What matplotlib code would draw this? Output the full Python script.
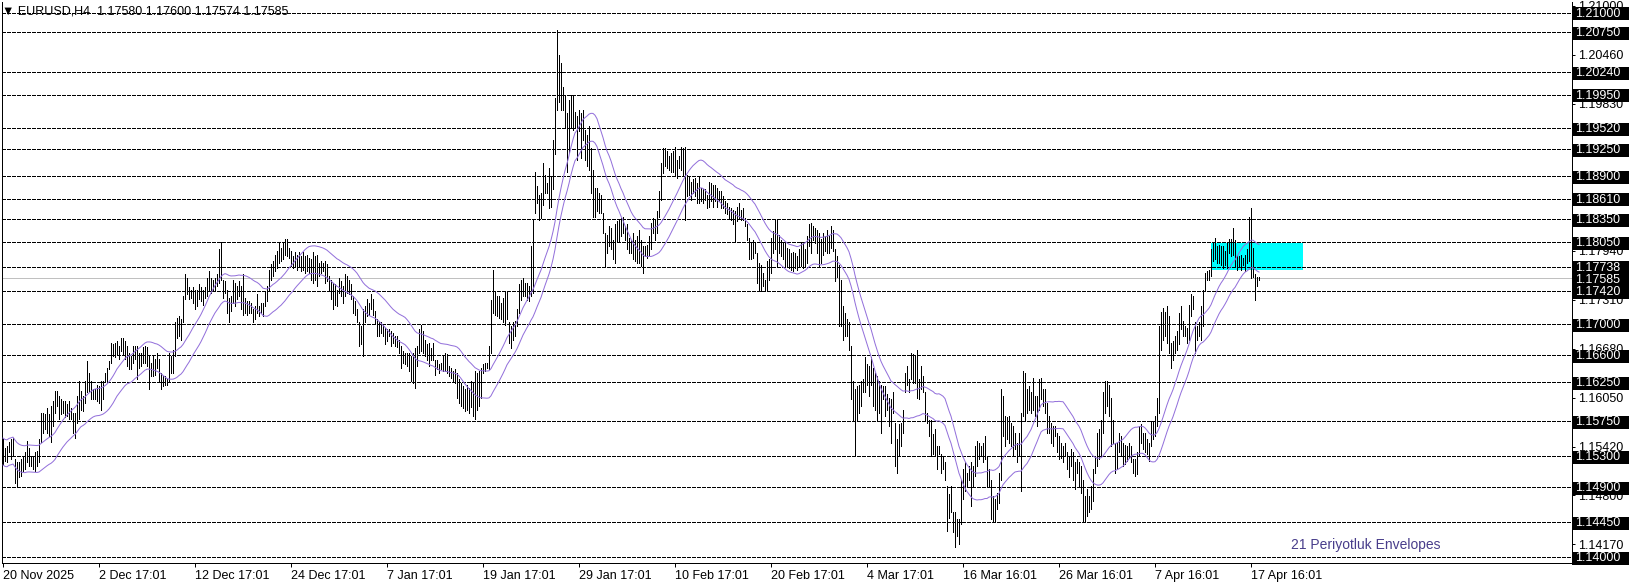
import numpy as np
import pandas as pd
import matplotlib
matplotlib.use("Agg")
import matplotlib.pyplot as plt
from matplotlib.patches import Rectangle
from matplotlib.transforms import blended_transform_factory

# EURUSD H4 bars, quoted in pips above 1.1400
BASE = 1.1400
PIP = 0.0001

# 20 Nov 2025 -> ~9 Jan
high_nov_jan = [152, 141, 143, 148, 152, 154, 126, 122, 122, 126,
                130, 135, 150, 141, 130, 130, 135, 137, 152, 186,
                186, 184, 192, 184, 195, 201, 214, 214, 207, 203,
                201, 201, 197, 201, 192, 186, 186, 207, 227, 214,
                207, 227, 252, 237, 227, 216, 216, 222, 220, 227,
                227, 237, 244, 252, 276, 274, 276, 278, 272, 282,
                282, 278, 272, 263, 259, 272, 272, 272, 263, 263,
                270, 272, 270, 259, 250, 259, 255, 263, 255, 237,
                233, 233, 229, 263, 259, 267, 302, 308, 310, 306,
                336, 364, 359, 347, 344, 347, 344, 344, 351, 347,
                344, 347, 359, 368, 359, 357, 359, 364, 396, 406,
                357, 355, 344, 334, 336, 357, 353, 349, 355, 349,
                364, 334, 329, 329, 327, 319, 323, 338, 323, 327,
                327, 342, 349, 370, 377, 381, 389, 394, 406, 398,
                404, 409, 409, 398, 394, 387, 392, 389, 392, 387,
                392, 387, 389, 385, 383, 392, 387, 389, 379, 381,
                379, 381, 377, 362, 357, 353, 351, 344, 359, 355,
                349, 364, 362, 357, 351, 336, 329, 319, 302, 297,
                319, 323, 332, 327, 338, 332, 317, 306, 302, 302,
                299, 295, 293, 293, 291, 289, 285, 285, 280, 272,
                265, 263, 263, 263, 259]
low_nov_jan = [120, 124, 122, 135, 126, 130, 96, 92, 103, 105,
               111, 113, 122, 118, 118, 113, 111, 118, 122, 148,
               160, 165, 160, 156, 148, 169, 186, 195, 178, 184,
               186, 180, 182, 178, 178, 160, 154, 173, 178, 190,
               188, 199, 212, 214, 203, 203, 203, 201, 199, 190,
               203, 225, 227, 242, 250, 259, 257, 261, 255, 265,
               261, 255, 246, 242, 242, 250, 255, 229, 244, 246,
               250, 250, 246, 216, 233, 233, 235, 244, 227, 216,
               220, 222, 222, 227, 237, 237, 259, 282, 285, 280,
               302, 332, 338, 332, 334, 327, 319, 323, 332, 329,
               325, 334, 336, 342, 340, 342, 344, 349, 353, 357,
               334, 340, 314, 302, 317, 327, 323, 332, 336, 319,
               312, 314, 312, 314, 314, 302, 306, 314, 310, 314,
               310, 323, 329, 344, 357, 362, 368, 372, 379, 381,
               383, 389, 387, 385, 374, 372, 374, 370, 374, 368,
               370, 366, 368, 366, 357, 353, 357, 349, 362, 366,
               368, 353, 355, 342, 332, 319, 325, 323, 340, 336,
               327, 336, 340, 338, 332, 314, 312, 302, 272, 274,
               259, 302, 310, 312, 319, 312, 300, 285, 285, 289,
               285, 274, 278, 285, 272, 276, 272, 270, 263, 244,
               250, 248, 246, 240, 227]

# ~9 Jan -> ~24 Feb
high_jan_feb = [263, 269, 272, 293, 299, 291, 280, 274, 276, 269,
                276, 254, 254, 248, 250, 259, 263, 261, 246, 244,
                239, 242, 237, 229, 224, 220, 216, 222, 218, 227,
                224, 239, 237, 239, 244, 248, 250, 250, 272, 331,
                370, 342, 336, 336, 327, 334, 342, 342, 302, 297,
                302, 304, 319, 351, 357, 359, 353, 353, 349, 400,
                434, 496, 477, 466, 468, 507, 492, 481, 501, 490,
                537, 590, 678, 646, 635, 605, 595, 571, 588, 595,
                595, 573, 567, 575, 571, 575, 550, 543, 554, 526,
                498, 475, 475, 468, 466, 443, 417, 415, 426, 424,
                408, 428, 432, 434, 436, 438, 426, 428, 411, 408,
                417, 408, 413, 421, 408, 400, 400, 402, 413, 430,
                436, 434, 445, 471, 507, 526, 526, 522, 516, 520,
                522, 528, 511, 516, 528, 526, 528, 492, 490, 483,
                486, 488, 481, 490, 475, 473, 473, 466, 483, 481,
                479, 479, 475, 471, 471, 464, 458, 456, 451, 449,
                447, 445, 451, 456, 447, 449, 436, 428, 411, 406,
                408, 406, 391, 379, 376, 366, 357, 381, 383, 411,
                419, 434, 434, 415, 408, 404, 404, 398, 396, 391,
                393, 391, 387, 396, 406, 406, 396, 413, 428, 430,
                426, 424, 421, 417]
low_jan_feb = [224, 218, 246, 263, 265, 263, 259, 254, 246, 254,
               254, 235, 242, 237, 242, 239, 239, 237, 233, 231,
               227, 224, 205, 198, 195, 192, 188, 190, 186, 193,
               182, 178, 190, 195, 205, 237, 239, 244, 242, 263,
               314, 312, 310, 308, 306, 302, 299, 306, 276, 269,
               280, 284, 297, 314, 331, 336, 336, 331, 329, 336,
               340, 443, 456, 434, 436, 453, 468, 468, 449, 451,
               473, 518, 575, 586, 575, 575, 552, 496, 520, 552,
               550, 552, 511, 548, 513, 537, 511, 503, 498, 468,
               438, 438, 445, 443, 443, 417, 374, 391, 400, 396,
               383, 379, 406, 406, 413, 417, 408, 396, 391, 391,
               383, 381, 379, 379, 374, 366, 387, 385, 389, 396,
               417, 408, 417, 438, 460, 494, 503, 501, 498, 496,
               496, 492, 488, 501, 498, 490, 434, 464, 466, 460,
               468, 464, 456, 456, 458, 456, 460, 449, 451, 458,
               451, 458, 451, 458, 449, 449, 443, 441, 436, 434,
               428, 406, 432, 436, 434, 434, 426, 408, 383, 383,
               385, 391, 353, 342, 342, 349, 344, 342, 357, 366,
               391, 396, 374, 391, 387, 383, 374, 374, 372, 370,
               368, 372, 370, 374, 374, 372, 374, 379, 400, 391,
               408, 404, 391, 374]

# ~24 Feb -> ~15 Apr
high_feb_apr = [409, 417, 413, 421, 413, 426, 421, 396, 387, 376,
                357, 323, 314, 306, 302, 272, 227, 216, 220, 222,
                227, 229, 257, 248, 246, 257, 244, 237, 233, 227,
                222, 220, 220, 210, 205, 203, 212, 173, 152, 171,
                173, 190, 237, 246, 229, 263, 261, 259, 267, 229,
                246, 233, 212, 186, 177, 177, 158, 165, 143, 143,
                133, 130, 122, 92, 81, 92, 58, 58, 49, 49,
                100, 113, 122, 109, 117, 122, 117, 143, 150, 147,
                143, 147, 156, 130, 113, 100, 79, 75, 83, 109,
                216, 207, 182, 180, 182, 173, 169, 160, 147, 160,
                186, 240, 237, 216, 220, 212, 231, 207, 207, 229,
                231, 216, 216, 199, 182, 173, 169, 169, 160, 156,
                147, 143, 147, 135, 130, 139, 135, 122, 126, 122,
                117, 100, 79, 88, 79, 92, 113, 130, 160, 165,
                177, 212, 227, 227, 222, 205, 177, 147, 147, 160,
                156, 147, 145, 143, 147, 143, 126, 126, 135, 169,
                171, 160, 160, 152, 147, 175, 175, 182, 205, 297,
                316, 321, 316, 323, 310, 276, 278, 284, 291, 314,
                323, 304, 297, 295, 325, 338, 336, 302, 297, 302,
                323, 344, 366, 368, 370, 396, 404, 411, 400, 402,
                400, 400, 394, 406, 409]
low_feb_apr = [379, 389, 394, 391, 391, 398, 394, 355, 361, 297,
               297, 280, 284, 284, 267, 203, 177, 130, 177, 186,
               195, 212, 212, 222, 207, 222, 195, 190, 177, 186,
               160, 203, 182, 190, 169, 147, 186, 117, 109, 130,
               143, 160, 212, 222, 212, 229, 224, 224, 205, 203,
               216, 212, 177, 173, 156, 130, 133, 130, 113, 133,
               109, 113, 100, 34, 51, 58, 32, 13, 28, 17,
               43, 75, 85, 92, 100, 66, 92, 105, 117, 126,
               130, 122, 126, 92, 92, 49, 45, 45, 62, 70,
               100, 156, 143, 152, 147, 143, 130, 139, 122, 130,
               85, 182, 177, 186, 190, 186, 190, 182, 169, 190,
               203, 195, 186, 160, 160, 147, 143, 156, 135, 126,
               128, 122, 130, 113, 103, 117, 100, 88, 109, 92,
               83, 45, 47, 53, 58, 62, 73, 109, 117, 126,
               130, 160, 186, 195, 182, 143, 147, 109, 113, 135,
               130, 117, 120, 124, 128, 122, 109, 105, 107, 130,
               147, 139, 135, 133, 124, 143, 152, 156, 169, 186,
               267, 280, 284, 276, 263, 244, 254, 263, 267, 274,
               293, 284, 284, 276, 280, 310, 319, 263, 280, 284,
               280, 297, 344, 357, 357, 362, 381, 383, 379, 379,
               376, 372, 376, 372, 391]

# last bars up to 17 Apr
high_apr = [409, 423, 408, 389, 387, 389, 385, 389, 396, 438, 449, 398, 364, 361, 360]
low_apr = [387, 389, 374, 370, 374, 370, 376, 368, 379, 381, 359, 361, 331, 349, 357]

# horizontal levels drawn on the chart
levels = [1.21000, 1.20750, 1.20240, 1.19950, 1.19520, 1.19250, 1.18900, 1.18610,
          1.18350, 1.18050, 1.17738, 1.17420, 1.17000, 1.16600, 1.16250, 1.15750,
          1.15300, 1.14900, 1.14450, 1.14000]
bid = 1.17585
# price scale marks (the two hidden under level boxes carry no text)
price_ticks = [1.21090, 1.20460, 1.19830, 1.19200, 1.18570, 1.17940, 1.17310,
               1.16680, 1.16050, 1.15420, 1.14800, 1.14170]
price_tick_labels = ["1.21000", "1.20460", "1.19830", "", "", "1.17940", "1.17310",
                     "1.16680", "1.16050", "1.15420", "1.14800", "1.14170"]

date_labels = ["20 Nov 2025", "2 Dec 17:01", "12 Dec 17:01", "24 Dec 17:01",
               "7 Jan 17:01", "19 Jan 17:01", "29 Jan 17:01", "10 Feb 17:01",
               "20 Feb 17:01", "4 Mar 17:01", "16 Mar 16:01", "26 Mar 16:01",
               "7 Apr 16:01", "17 Apr 16:01"]
BARS_PER_LABEL = 48

# supply/demand box
zone_low, zone_high = 1.1769, 1.1804
zone_start, zone_end = 604, 650

ENV_PERIOD = 21
ENV_DEV = 0.0015

header = "\u25bc EURUSD,H4  1.17580 1.17600 1.17574 1.17585"

# ---------------------------------------------------------------
plt.rcParams['font.family'] = ['Liberation Sans', 'DejaVu Sans']
plt.rcParams['lines.scale_dashes'] = False

high = np.array(high_nov_jan + high_jan_feb + high_feb_apr + high_apr) * PIP + BASE
low = np.array(low_nov_jan + low_jan_feb + low_feb_apr + low_apr) * PIP + BASE
idx = np.arange(len(high))

median = pd.Series((high + low) / 2)
ma = median.rolling(ENV_PERIOD, min_periods=1).mean()

W, H = 1636, 587
fig = plt.figure(figsize=(W / 100, H / 100), dpi=100)
ax = fig.add_axes([2 / W, (H - 563) / H, 1570 / W, 561 / H])
ax.set_xlim(-0.5, 784.5)
ax.set_ylim(1.13927, 1.21140)

px = 0.72  # one pixel in points

ax.add_patch(Rectangle((zone_start, zone_low), zone_end - zone_start, zone_high - zone_low,
                       facecolor='#00ffff', edgecolor='none', zorder=0.5))

for lv in levels:
    ax.axhline(lv, color='black', lw=px, dashes=(4 * px, 2 * px), zorder=1, antialiased=False)
ax.axhline(bid, color='#c0c0c0', lw=px, zorder=1, antialiased=False)

ax.vlines(idx, low, high, color='black', lw=px, zorder=3, antialiased=False)
ax.plot(idx, ma * (1 + ENV_DEV), color='#9370db', lw=px, zorder=4)
ax.plot(idx, ma * (1 - ENV_DEV), color='#9370db', lw=px, zorder=4)

# axes frame
for side in ['left', 'right', 'bottom']:
    ax.spines[side].set_linewidth(px)
ax.spines['top'].set_visible(False)

ax.yaxis.tick_right()
ax.set_yticks(price_ticks)
ax.set_yticklabels(price_tick_labels)
ax.tick_params(axis='y', direction='out', length=3 * px, width=px, pad=2, labelsize=9)

ax.set_xticks(idx[::BARS_PER_LABEL][:len(date_labels)])
ax.set_xticklabels(date_labels, ha='left')
ax.tick_params(axis='x', direction='out', length=4 * px, width=px, pad=2, labelsize=9)

# boxed price labels on the right scale
blend = blended_transform_factory(ax.transAxes, ax.transData)
box_w = 57 / 1570
box_h = 13 / 7778
for lv in levels + [bid]:
    ax.add_patch(Rectangle((1.0, lv - box_h * 0.58), box_w, box_h, transform=blend,
                           facecolor='black', edgecolor='none', clip_on=False, zorder=10))
    ax.text(1.0 + 3 / 1570, lv - box_h * 0.08, f"{lv:.5f}", transform=blend, color='white',
            fontsize=9, va='center', ha='left', clip_on=False, zorder=11)

# symbol header sits on the top level line, as in the terminal
fig.text(2 / W, 1 - 11.5 / H, header, fontsize=9, va='center', ha='left', color='black')
ax.text(1289 / 1570, 18 / 561, "21 Periyotluk Envelopes", transform=ax.transAxes,
        fontsize=10, color='#483d8b', va='center', ha='left')

fig.savefig("out.png", dpi=100)
